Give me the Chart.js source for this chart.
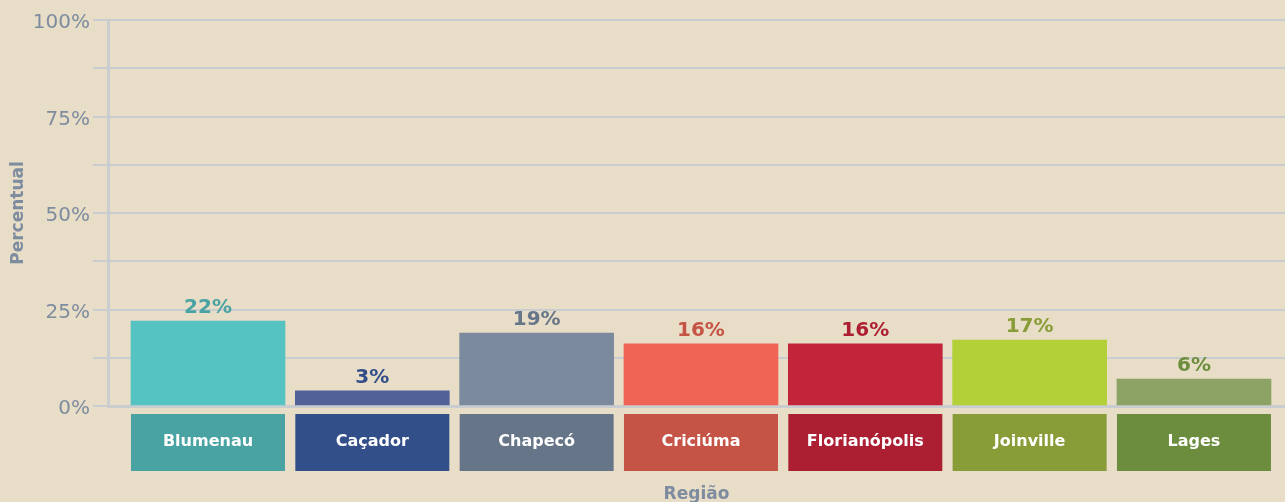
<!DOCTYPE html>
<html>
<head>
<meta charset="utf-8">
<script src="https://cdn.jsdelivr.net/npm/chart.js@4.4.1/dist/chart.umd.min.js"></script>
<style>
  html, body { margin: 0; padding: 0; background: #e8ddc6; }
  #wrap { width: 1285px; height: 502px; position: relative; }
</style>
</head>
<body>
<div id="wrap"><canvas id="c" width="1285" height="502"></canvas></div>
<script>
const categories = ['Blumenau', 'Caçador', 'Chapecó', 'Criciúma', 'Florianópolis', 'Joinville', 'Lages'];
const values = [22.0, 3.9, 18.9, 16.1, 16.1, 17.1, 7.0];
const valueLabels = ['22%', '3%', '19%', '16%', '16%', '17%', '6%'];
const barColors = ['#55c3c2', '#526198', '#7b8a9d', '#f06455', '#c2243a', '#b2d037', '#8da366'];
const labelColors = ['#4aa3a3', '#334f8a', '#667688', '#c55346', '#ac1f33', '#889c38', '#6c8d3d'];
const yTicks = [0, 12.5, 25, 37.5, 50, 62.5, 75, 87.5, 100];

const gridColor = '#c9cdcf';
const textGray = '#7e8ca0';

const boxesPlugin = {
  id: 'boxes',
  afterDatasetsDraw(chart) {
    const ctx = chart.ctx;
    const meta = chart.getDatasetMeta(0);
    const y0 = chart.scales.y.getPixelForValue(0);
    ctx.save();
    meta.data.forEach((bar, i) => {
      const w = bar.width;
      const left = bar.x - w / 2;
      ctx.fillStyle = labelColors[i];
      ctx.fillRect(left, y0 + 8, w, 57);
      ctx.fillStyle = '#ffffff';
      ctx.font = 'bold 16px "DejaVu Sans"';
      ctx.textAlign = 'center';
      ctx.textBaseline = 'middle';
      ctx.fillText(categories[i], bar.x, y0 + 36);
      ctx.fillStyle = labelColors[i];
      ctx.font = 'bold 20px "DejaVu Sans"';
      ctx.textBaseline = 'alphabetic';
      ctx.fillText(valueLabels[i], bar.x, bar.y - 8);
    });
    ctx.restore();
  }
};

new Chart(document.getElementById('c'), {
  type: 'bar',
  data: {
    datasets: [{
      data: values.map((v, i) => ({ x: i, y: v })),
      backgroundColor: barColors,
      borderWidth: 0,
      barThickness: 154
    }]
  },
  options: {
    responsive: false,
    animation: false,
    devicePixelRatio: 1,
    layout: { padding: { top: 20, left: 0, right: 0, bottom: 0 } },
    plugins: { legend: { display: false }, tooltip: { enabled: false } },
    scales: {
      x: {
        type: 'linear',
        offset: false,
        min: -0.6085,
        max: 6.554,
        afterFit(s) { s.height = 96; },
        grid: { display: true, offset: false, color: 'rgba(0,0,0,0)', drawTicks: false },
        border: { display: true, color: gridColor, width: 3 },
        ticks: { display: false },
        title: {
          display: true,
          text: 'Região',
          color: textGray,
          font: { family: 'DejaVu Sans', size: 17, weight: 'bold', lineHeight: 0.9 },
          padding: { top: 0, bottom: 0 }
        }
      },
      y: {
        min: 0,
        max: 100,
        afterFit(s) { s.width = 108; },
        afterBuildTicks(s) { s.ticks = yTicks.map(v => ({ value: v })); },
        grid: { color: gridColor, lineWidth: 2, tickLength: 15, drawTicks: true },
        border: { display: true, color: gridColor, width: 3 },
        ticks: {
          padding: 3,
          labelOffset: 3,
          color: textGray,
          font: { family: 'DejaVu Sans', size: 20 },
          callback: (v) => (v % 25 === 0 ? v + '%' : '')
        },
        title: {
          display: true,
          text: 'Percentual',
          color: textGray,
          font: { family: 'DejaVu Sans', size: 17, weight: 'bold' },
          padding: { top: 8, bottom: 0 }
        }
      }
    }
  },
  plugins: [boxesPlugin]
});
</script>
</body>
</html>
